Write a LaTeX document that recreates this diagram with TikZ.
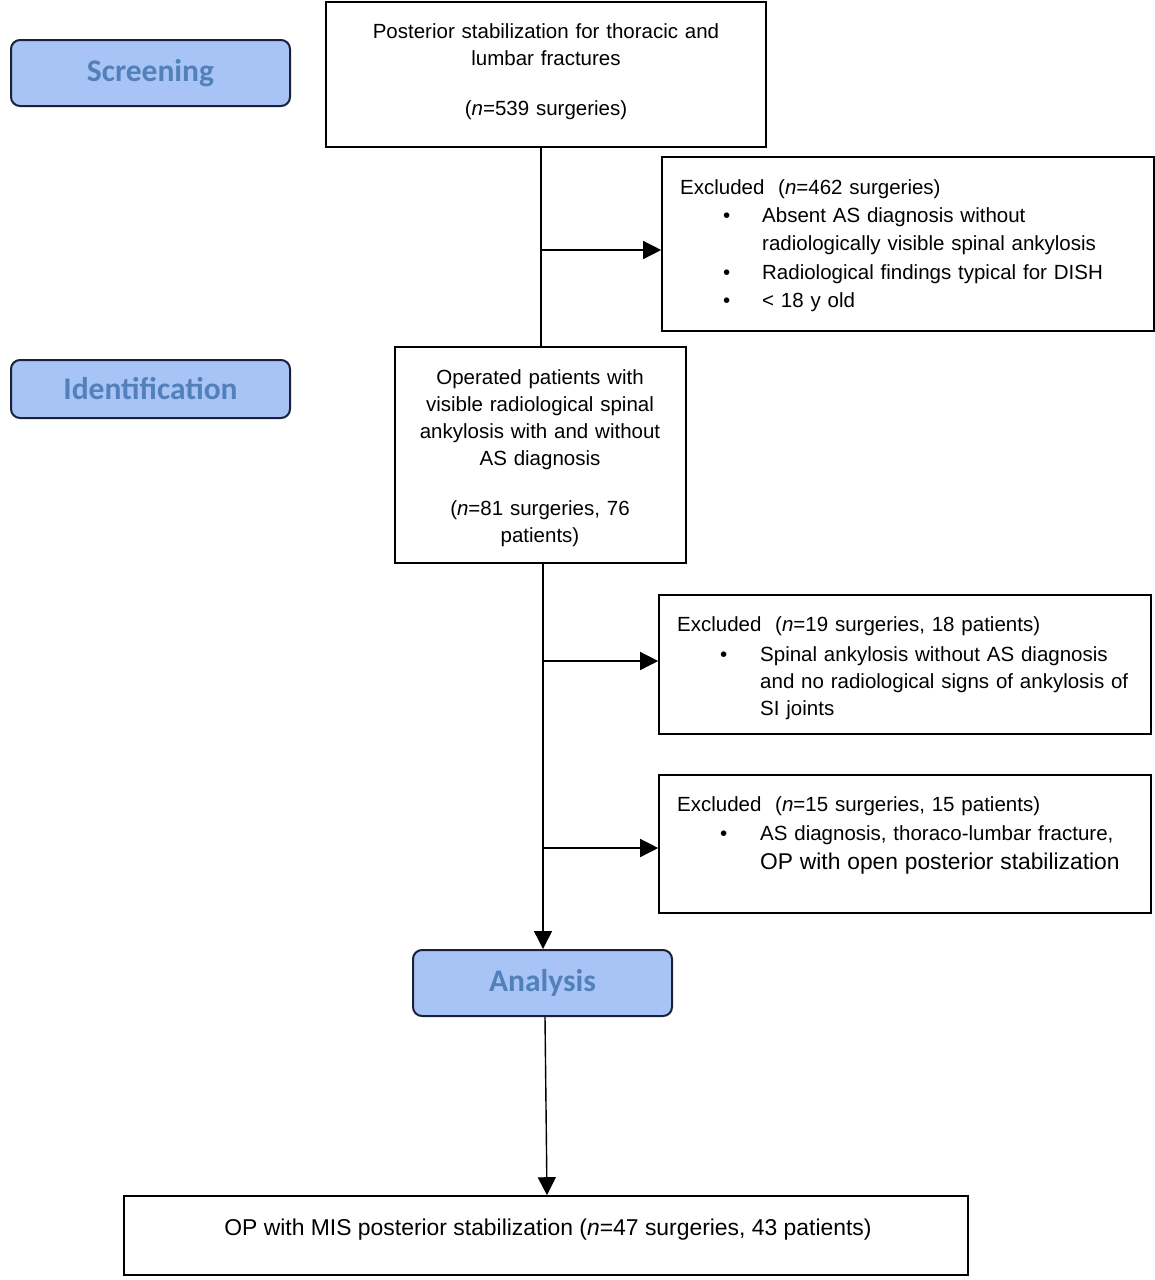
\documentclass[tikz,border=0pt]{standalone}
\usepackage{fontspec}
\setmainfont{Liberation Sans}
\newfontfamily\carlito{Carlito}
\usetikzlibrary{arrows.meta}
\definecolor{stagefill}{HTML}{A8C4F6}
\definecolor{stageline}{HTML}{1A2238}
\definecolor{stagetext}{HTML}{5280BB}
\begin{document}
\begin{tikzpicture}[x=1pt,y=-1pt,
  stage/.style={draw=stageline, line width=2pt, rounded corners=9pt, fill=stagefill,
    text=stagetext, font=\carlito\bfseries\fontsize{31.5}{36}\selectfont, inner sep=0pt},
  box/.style={draw=black, line width=1.6pt, inner sep=0pt},
  txt/.style={inner sep=0pt, font=\fontsize{20.5}{27}\selectfont},
  conn/.style={line width=1.4pt},
  arr/.style={line width=1.4pt, -{Triangle[length=18pt,width=18pt]}}]
\useasboundingbox (0,0) rectangle (1155,1280);

% stage labels
\node[stage, minimum width=279pt, minimum height=66pt] (screen) at (150.5,73) {Screening};
\node[stage, minimum width=279pt, minimum height=58pt] (ident) at (150.5,389) {Identification};
\node[stage, minimum width=259pt, minimum height=66pt] (analysis) at (542.5,983) {Analysis};

% boxes
\node[box, minimum width=440pt, minimum height=145pt] (box1) at (546,74.5) {};
\node[box, minimum width=492pt, minimum height=174pt] (excl1) at (908,244) {};
\node[box, minimum width=291pt, minimum height=216pt] (box2) at (540.5,455) {};
\node[box, minimum width=492pt, minimum height=139pt] (excl2) at (905,664.5) {};
\node[box, minimum width=492pt, minimum height=138pt] (excl3) at (905,844) {};
\node[box, minimum width=844pt, minimum height=79pt] (final) at (546,1235.5) {};

% texts
\node[txt, align=center, text width=430pt, anchor=base] (t1) at (546,38)
  {Posterior stabilization for thoracic and\\lumbar fractures\\[23pt](\textit{n}=539 surgeries)};
\node[txt, align=center, text width=285pt, anchor=base] (t2) at (540,384)
  {Operated patients with\\visible radiological spinal\\ankylosis with and without\\AS diagnosis\\[23pt](\textit{n}=81 surgeries, 76\\patients)};
\node[txt, font=\fontsize{20.5}{28.4}\selectfont, align=left, text width=470pt, anchor=base west] (te1) at (680,194)
  {Excluded\ \ (\textit{n}=462 surgeries)\\
   \hspace*{43pt}\makebox[39pt][l]{\textbullet}Absent AS diagnosis without\\
   \hspace*{82pt}radiologically visible spinal ankylosis\\
   \hspace*{43pt}\makebox[39pt][l]{\textbullet}Radiological findings typical for DISH\\
   \hspace*{43pt}\makebox[39pt][l]{\textbullet}< 18 y old};
\node[txt, align=left, text width=470pt, anchor=base west] (te2) at (677,631)
  {Excluded\ \ (\textit{n}=19 surgeries, 18 patients)\\[3pt]
   \hspace*{43pt}\makebox[40pt][l]{\textbullet}Spinal ankylosis without AS diagnosis\\
   \hspace*{83pt}and no radiological signs of ankylosis of\\
   \hspace*{83pt}SI joints};
\node[txt, align=left, text width=470pt, anchor=base west] (te3) at (677,811)
  {Excluded\ \ (\textit{n}=15 surgeries, 15 patients)\\[2pt]
   \hspace*{43pt}\makebox[40pt][l]{\textbullet}AS diagnosis, thoraco-lumbar fracture,\\[2pt]
   \hspace*{83pt}{\fontsize{22.8}{27}\selectfont OP with open posterior stabilization}};
\node[txt, font=\fontsize{22.9}{28}\selectfont, anchor=base] (tf) at (548,1235)
  {OP with MIS posterior stabilization (\textit{n}=47 surgeries, 43 patients)};

% connectors
\coordinate (b1) at (541,250);
\coordinate (b2) at (543,661);
\coordinate (b3) at (543,848);
\draw[conn] (box1.south -| b1) -- (box2.north -| b1);
\draw[arr] (b1) -- (b1 -| excl1.west);
\draw[arr] (box2.south -| b2) -- (analysis.north -| b2);
\draw[arr] (b2) -- (b2 -| excl2.west);
\draw[arr] (b3) -- (b3 -| excl3.west);
\draw[arr] (analysis.south -| 545,0) -- (final.north -| 547,0);
\end{tikzpicture}
\end{document}
